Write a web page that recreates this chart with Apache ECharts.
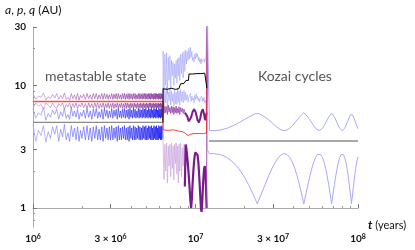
<!DOCTYPE html>
<html><head><meta charset="utf-8">
<script src="https://cdn.jsdelivr.net/npm/echarts@6/dist/echarts.min.js"></script>
<style>html,body{margin:0;padding:0;background:#fff}#c{width:415px;height:250px}</style>
</head><body><div id="c"></div>
<script>
// ---- data (times in Myr, distances in AU) ----
const metaT = [1.00,1.04,1.08,1.12,1.16,1.20,1.24,1.28,1.32,1.36,
1.40,1.44,1.48,1.52,1.56,1.60,1.64,1.68,1.72,1.76,
1.80,1.84,1.88,1.92,1.96,2.00,
2.05,2.10,2.15,2.20,2.25,2.30,2.35,2.40,2.45,2.50,
2.55,2.60,2.65,2.70,2.75,2.80,2.85,2.90,2.95,3.00,
3.05,3.10,3.15,3.20,3.25,3.30,3.35,3.40,3.45,3.50,
3.55,3.60,3.65,3.70,3.75,3.80,3.85,3.90,3.95,4.00,
4.05,4.10,4.15,4.20,4.25,4.30,4.35,4.40,4.45,4.50,
4.55,4.60,4.65,4.70,4.75,4.80,4.85,4.90,4.95,5.00,
5.05,5.10,5.15,5.20,5.25,5.30,5.35,5.40,5.45,5.50,
5.55,5.60,5.65,5.70,5.75,5.80,5.85,5.90,5.95,6.00,
6.05,6.10,6.15,6.20,6.25,6.30];
const metaBlueUpper = [6.5,5.4,6.0,5.7,6.6,5.2,5.9,5.5,6.3,5.8,
6.4,5.3,6.1,5.6,6.5,5.4,5.8,5.3,6.6,5.6,
6.2,5.5,6.4,5.3,6.0,5.6,
6.3,5.4,6.5,5.5,6.2,5.3,6.4,5.6,6.5,5.4,
6.1,5.5,6.4,5.3,6.5,5.6,6.3,5.4,6.2,5.5,
6.5,5.4,6.3,5.6,6.4,5.3,6.5,5.5,6.2,5.4,
6.4,5.5,6.5,5.4,6.3,5.5,6.4,5.3,6.5,5.5,
6.3,5.4,6.5,5.5,6.4,5.4,6.2,5.5,6.5,5.4,
6.4,5.5,6.3,5.4,6.5,5.5,6.4,5.4,6.5,5.5,
6.3,5.4,6.5,5.5,6.4,5.4,6.5,5.5,6.3,5.4,
6.5,5.5,6.4,5.4,6.5,5.5,6.3,5.4,6.5,5.5,
6.4,5.4,6.5,5.5,6.4,5.4];
const metaBlueLower = [4.8,3.5,4.3,3.9,4.7,3.45,4.2,3.7,4.6,4.0,
4.7,3.5,4.4,3.8,4.8,3.6,4.1,3.5,4.7,3.8,
4.5,3.6,4.6,3.5,4.3,3.7,
4.6,3.6,4.7,3.6,4.5,3.5,4.6,3.7,4.7,3.6,
4.4,3.6,4.6,3.5,4.7,3.7,4.5,3.6,4.6,3.6,
4.7,3.6,4.5,3.7,4.6,3.5,4.7,3.6,4.5,3.6,
4.6,3.7,4.7,3.6,4.5,3.6,4.6,3.5,4.7,3.7,
4.5,3.6,4.7,3.6,4.6,3.6,4.5,3.7,4.7,3.6,
4.6,3.6,4.5,3.6,4.7,3.7,4.6,3.6,4.7,3.6,
4.5,3.6,4.7,3.7,4.6,3.6,4.7,3.6,4.5,3.6,
4.7,3.7,4.6,3.6,4.7,3.6,4.5,3.6,4.7,3.7,
4.6,3.6,4.7,3.6,4.6,3.7];
const metaPurpleUpper = [8.6,7.7,8.2,8.0,8.7,7.6,8.1,7.8,8.5,7.9,
8.6,7.7,8.3,7.8,8.7,7.7,8.0,7.6,8.6,7.8,
8.4,7.7,8.6,7.6,8.3,7.9,
8.5,7.7,8.6,7.8,8.4,7.7,8.6,7.8,8.6,7.7,
8.4,7.8,8.6,7.7,8.6,7.8,8.5,7.7,8.4,7.8,
8.6,7.7,8.5,7.8,8.6,7.7,8.6,7.8,8.4,7.7,
8.6,7.8,8.6,7.7,8.5,7.8,8.6,7.7,8.6,7.8,
8.5,7.7,8.6,7.8,8.6,7.7,8.4,7.8,8.6,7.7,
8.6,7.8,8.5,7.7,8.6,7.8,8.6,7.7,8.6,7.8,
8.5,7.7,8.6,7.8,8.6,7.7,8.6,7.8,8.5,7.7,
8.6,7.8,8.6,7.7,8.6,7.8,8.5,7.7,8.6,7.8,
8.6,7.7,8.6,7.8,8.5,7.7];
const metaPurpleLower = [6.5,7.2,6.8,7.0,6.4,7.2,6.9,6.6,7.2,6.7,
6.5,7.1,6.8,7.2,6.4,7.0,6.7,7.2,6.5,7.1,
6.6,7.2,6.5,7.0,6.7,7.2,
6.6,7.1,6.5,7.2,6.6,7.1,6.5,7.2,6.6,7.2,
6.5,7.1,6.6,7.2,6.5,7.1,6.6,7.2,6.5,7.1,
6.6,7.2,6.5,7.1,6.6,7.2,6.5,7.1,6.6,7.2,
6.5,7.1,6.6,7.2,6.5,7.2,6.6,7.1,6.5,7.2,
6.6,7.1,6.5,7.2,6.6,7.1,6.5,7.2,6.6,7.1,
6.5,7.2,6.6,7.1,6.5,7.2,6.6,7.1,6.5,7.2,
6.6,7.1,6.5,7.2,6.6,7.2,6.5,7.1,6.6,7.2,
6.5,7.1,6.6,7.2,6.5,7.1,6.6,7.2,6.5,7.1,
6.6,7.2,6.5,7.1,6.6,7.2];
const metaBlackT = [1.00, 6.30];
const metaBlack = [5.0, 5.0];
const metaRedT = [1.00, 6.30];
const metaRed = [7.4, 7.4];

// chaotic phase
const chaosTA = [6.32,6.40,6.48,6.56,6.64,6.72,6.80,6.88,6.96,7.04,7.12,7.20,7.28,7.36,7.44,7.52,7.60,7.68,7.76,7.84,7.92,8.00,8.10,8.20,8.30,8.40,8.50,8.60];
const chaosTB = [8.7,8.8,8.9,9.0,9.1,9.2,9.3,9.4,9.5,9.6,9.7,9.8,9.9,10.0,10.1,10.2,10.3,10.4,10.5,10.6,10.7,10.8,10.9,11.0,11.1,11.2,11.3,11.4,11.5,11.6,11.7];
const chaosBlueUpperA = [19,9,18,10,18.5,8.5,17,11,17.5,9.5,16,12,15.5,10,15,11.5,16,10.5,16.5,12,17,11,18,12.5,18.5,11.5,19,13];
const chaosBlueUpperB = [19.5,15,19,16,20,16.5,20.5,17,19,16,17,15.5,18,16.5,18.5,17,18,16,17,15.5,16.5,15,16.5,15.5,16,15,16.5,15.5,16,17,24];
const chaosBlueLowerA = [9.5,6.8,9.0,7.2,9.8,6.5,8.8,7.5,9.4,6.9,9.0,7.4,8.6,6.8,9.2,7.1,8.8,7.0,9.5,7.3,9.0,6.9,9.3,7.4,8.9,7.2,9.1,7.5];
const chaosBlueLowerB = [8.8,7.6,8.4,7.3,8.0,7.8,8.6,7.4,8.2,7.6,7.9,7.2,8.3,7.7,8.6,7.8,8.1,7.5,7.9,7.3,7.8,7.6,8.2,7.4,7.9,7.5,8.0,7.2,7.6,7.0,5.0];
const chaosPurpleUpperA = [6.9,5.9,6.8,6.0,6.7,5.8,6.9,6.1,6.6,5.9,6.8,6.0,6.7,5.8,6.6,6.0,6.8,5.9,6.5,6.0,6.7,5.8,6.6,6.1,6.5,5.9,6.4,6.0];
const chaosPurpleUpperB = [6.2,5.9,5.6,5.3,5.1,5.0,5.2,5.5,5.8,6.1,6.3,6.4,6.3,6.1,5.8,5.5,5.2,5.05,5.0,5.1,5.4,5.8,6.1,6.3,6.4,6.2,5.8,5.4,5.2,5.3,6.0];
const chaosPurpleLowerA = [3.4,1.7,3.3,2.0,3.4,1.6,3.2,2.2,3.3,1.8,3.4,2.1,3.2,1.7,3.3,2.3,3.4,1.9,3.2,1.6,3.3,2.0,3.4,1.8,3.1,2.2,3.3,1.5];
const chaosPurpleLowerB = [3.3,3.0,2.6,2.2,1.8,1.45,1.15,1.0,1.2,1.6,2.0,2.4,2.7,2.85,2.9,2.85,2.7,2.4,2.0,1.6,1.25,1.0,0.93,1.1,1.45,1.8,2.1,2.2,2.0,1.5,1.0];
// ejection / transition spikes (value beyond the axis top)
const spikeT = [11.8];
const spikeBlueUpper = [40];
const spikeBlueLower = [3.0];
const spikePurple = [40];
const chaosRedT = [6.32,6.8,7.3,7.8,8.3,8.6,8.8,9.0,9.3,9.8,10.5,11.2,11.7,11.9];
const chaosRed = [4.35,4.3,4.35,4.25,4.2,4.1,3.95,3.9,4.0,4.05,4.05,4.05,4.1,40];
const chaosBlackT = [6.32,6.7,7.1,7.5,7.9,8.02,8.08,8.5,8.7,8.75,9.05,9.12,9.6,10.2,10.8,11.4,11.7,11.75];
const chaosBlack = [9.4,9.3,9.5,9.3,9.4,9.5,10.3,10.4,10.5,11.0,11.0,12.4,12.4,12.5,12.5,12.6,12.6,9.5];

// Kozai phase
const kozaiT = [12.2,12.8,14.2,15.6,17.0,18.4,19.8,21.2,22.6,23.4,
24.0,24.6,25.4,26.8,28.2,29.6,31.0,32.4,33.8,35.2,
36.6,38.0,39.4,40.8,42.2,43.6,45.0,45.8,46.4,47.0,
47.8,49.2,50.6,52.0,53.4,54.8,56.2,57.6,59.0,60.4,
61.8,63.2,64.6,66.0,67.4,68.2,68.8,69.4,70.2,71.6,
73.0,74.4,75.8,77.2,78.6,80.0,81.4,82.8,84.2,85.6,
87.0,88.4,89.8,90.6,91.2,91.8,92.6,94.0,95.4,96.8,
98.2,100.0];
const kozaiLower = [2.77,2.78,2.73,2.59,2.37,2.11,1.83,1.55,1.30,1.17,
1.08,1.17,1.30,1.55,1.83,2.11,2.37,2.59,2.73,2.78,
2.73,2.59,2.37,2.11,1.83,1.55,1.30,1.17,1.08,1.17,
1.30,1.55,1.83,2.11,2.37,2.59,2.73,2.78,2.73,2.59,
2.37,2.11,1.83,1.55,1.30,1.17,1.08,1.17,1.30,1.55,
1.83,2.11,2.37,2.59,2.73,2.78,2.73,2.59,2.37,2.11,
1.83,1.55,1.30,1.17,1.08,1.17,1.30,1.55,1.83,2.11,
2.37,2.62];
const kozaiUpper = [4.29,4.28,4.33,4.47,4.69,4.95,5.23,5.51,5.76,5.89,
5.98,5.89,5.76,5.51,5.23,4.95,4.69,4.47,4.33,4.28,
4.33,4.47,4.69,4.95,5.23,5.51,5.76,5.89,5.98,5.89,
5.76,5.51,5.23,4.95,4.69,4.47,4.33,4.28,4.33,4.47,
4.69,4.95,5.23,5.51,5.76,5.89,5.98,5.89,5.76,5.51,
5.23,4.95,4.69,4.47,4.33,4.28,4.33,4.47,4.69,4.95,
5.23,5.51,5.76,5.89,5.98,5.89,5.76,5.51,5.23,4.95,
4.69,4.44];
const kozaiBlackT = [12.1, 100.0];
const kozaiBlack = [3.53, 3.53];

// ticks
const xTickVals = [1e6, 3e6, 1e7, 3e7, 1e8];
const xTickLabels = ['10{s|6}', '3 × 10{s|6}', '10{s|7}', '3 × 10{s|7}', '10{s|8}'];
const xMinorVals = [2e6,4e6,5e6,6e6,7e6,8e6,9e6,2e7,4e7,5e7,6e7,7e7,8e7,9e7];
const yTickVals = [1, 3, 10, 30];
const yTickLabels = ['1', '3', '10', '30'];
const yMinorVals = [0.8,0.9,2,4,5,6,7,8,9,20];

// ---- build ----
const L = Math.log10;
function pts(t, v) {
  const n = Math.min(t.length, v.length), out = [];
  for (let i = 0; i < n; i++) out.push([L(t[i] * 1e6), L(v[i])]);
  return out;
}
const lastOf = (a) => a[a.length - 1];
function line(data, color, width) {
  return { type: 'line', data, symbol: 'none', silent: true, animation: false,
    lineStyle: { color, width }, clip: true };
}
function grad(stops) {
  return new echarts.graphic.LinearGradient(0, 0, 1, 0, stops.map(s => ({ offset: s[0], color: s[1] })));
}
const chaosT = chaosTA.concat(chaosTB);

const metaBU = pts(metaT, metaBlueUpper), metaBL = pts(metaT, metaBlueLower);
const metaPU = pts(metaT, metaPurpleUpper), metaPL = pts(metaT, metaPurpleLower);
const metaR = pts(metaRedT, metaRed), metaK = pts(metaBlackT, metaBlack);
const chBU = pts(chaosT, chaosBlueUpperA.concat(chaosBlueUpperB)).concat(pts(spikeT, spikeBlueUpper));
const chBL = pts(chaosT, chaosBlueLowerA.concat(chaosBlueLowerB)).concat(pts(spikeT, spikeBlueLower));
const chPUA = pts(chaosTA, chaosPurpleUpperA), chPUB = pts(chaosTB, chaosPurpleUpperB);
const chPLA = pts(chaosTA, chaosPurpleLowerA), chPLB = pts(chaosTB, chaosPurpleLowerB);

const blueGrad = () => grad([[0, '#a4a4ff'], [0.45, '#6060ff'], [1, '#0000f0']]);
const purpleGrad = () => grad([[0, '#cc98da'], [0.5, '#a058b4'], [1, '#7e1e90']]);

const series = [
  line(metaPL, purpleGrad(), 0.7),
  line(metaPU, purpleGrad(), 0.7),
  line(metaBU, blueGrad(), 0.7),
  line(metaBL, blueGrad(), 0.7),
  line(metaR, '#ff4a4a', 1.3),
  line(metaK, '#8a8a8a', 1.4),
  line([lastOf(metaBU)].concat(chBU), '#9a9aff', 0.55),
  line([lastOf(metaBL)].concat(chBL), '#9a9aff', 0.55),
  line([lastOf(metaPL)].concat(chPLA), '#cba6de', 0.7),
  line([lastOf(chPLA)].concat(chPLB), '#7a1a8c', 2.2),
  line([lastOf(chPLB)].concat(pts(spikeT, spikePurple)), '#9a3aaa', 0.9),
  line([lastOf(metaPU)].concat(chPUA), '#9444aa', 0.8),
  line([lastOf(chPUA)].concat(chPUB), '#7a1a8c', 2.0),
  line([lastOf(chPUB)].concat(pts(spikeT, spikePurple)), '#9a3aaa', 0.9),
  line([lastOf(metaR)].concat(pts(chaosRedT, chaosRed)), '#ff2a2a', 0.9),
  line([lastOf(metaK)].concat(pts(chaosBlackT, chaosBlack)), '#000000', 1.0),
  line([lastOf(chBU)].concat(pts(kozaiT, kozaiUpper)), '#a8a8ff', 1.0),
  line([lastOf(chBL)].concat(pts(kozaiT, kozaiLower)), '#a8a8ff', 1.0),
  line(pts(kozaiBlackT, kozaiBlack), '#8a8a8a', 1.5)
];

function fmt(vals, labels) {
  return (v) => { const i = vals.findIndex(t => Math.abs(L(t) - v) < 1e-6); return i >= 0 ? labels[i] : ''; };
}
const labelFont = { fontFamily: 'Lato', fontSize: 10, fontWeight: 'bold', color: '#111' };

const chart = echarts.init(document.getElementById('c'), null, { renderer: 'canvas' });
chart.setOption({
  animation: false,
  backgroundColor: '#fff',
  grid: { left: 33, right: 57, top: 27, bottom: 23, containLabel: false, outerBoundsMode: 'none' },
  xAxis: [{
    type: 'value', min: L(xTickVals[0]), max: L(xTickVals[xTickVals.length - 1]),
    axisLine: { lineStyle: { color: '#aaaaaa', width: 1 } },
    axisTick: { inside: true, length: 4, customValues: xTickVals.map(L), lineStyle: { color: '#777' } },
    axisLabel: Object.assign({ customValues: xTickVals.map(L), formatter: fmt(xTickVals, xTickLabels), margin: 6,
      rich: { s: { fontFamily: 'Lato', fontSize: 7, fontWeight: 'bold', color: '#111', verticalAlign: 'top', padding: [0, 0, 4, 0] } } }, labelFont),
    splitLine: { show: false }
  }, {
    type: 'value', min: L(xTickVals[0]), max: L(xTickVals[xTickVals.length - 1]), position: 'bottom',
    axisLine: { show: false },
    axisTick: { inside: true, length: 2, customValues: xMinorVals.map(L), lineStyle: { color: '#999' } },
    axisLabel: { show: false }, splitLine: { show: false }
  }],
  yAxis: [{
    type: 'value', min: L(0.7), max: L(30),
    axisLine: { show: true, lineStyle: { color: '#aaaaaa', width: 1 } },
    axisTick: { show: true, inside: true, length: 4, customValues: yTickVals.map(L), lineStyle: { color: '#777' } },
    axisLabel: Object.assign({ customValues: yTickVals.map(L), formatter: fmt(yTickVals, yTickLabels), margin: 7 }, labelFont),
    splitLine: { show: false }
  }, {
    type: 'value', min: L(0.7), max: L(30), position: 'left',
    axisLine: { show: false },
    axisTick: { show: true, inside: true, length: 2, customValues: yMinorVals.map(L), lineStyle: { color: '#999' } },
    axisLabel: { show: false }, splitLine: { show: false }
  }],
  series,
  graphic: [
    { type: 'text', left: 5, top: 4, style: { text: '{i|a}, {i|p}, {i|q} (AU)', font: '12px Lato', fill: '#111',
      rich: { i: { fontStyle: 'italic', fontFamily: 'Lato', fontSize: 12, fill: '#111' } } } },
    { type: 'text', left: 368, top: 219, style: { text: '{i|t} (years)', font: '11px Lato', fill: '#111',
      rich: { i: { fontStyle: 'italic', fontWeight: 'bold', fontFamily: 'Lato', fontSize: 12, fill: '#111' } } } },
    { type: 'text', left: 45, top: 69, style: { text: 'metastable state', font: '14px Lato', fill: '#555' } },
    { type: 'text', left: 258, top: 69, style: { text: 'Kozai cycles', font: '14px Lato', fill: '#555' } }
  ]
});
</script></body></html>
